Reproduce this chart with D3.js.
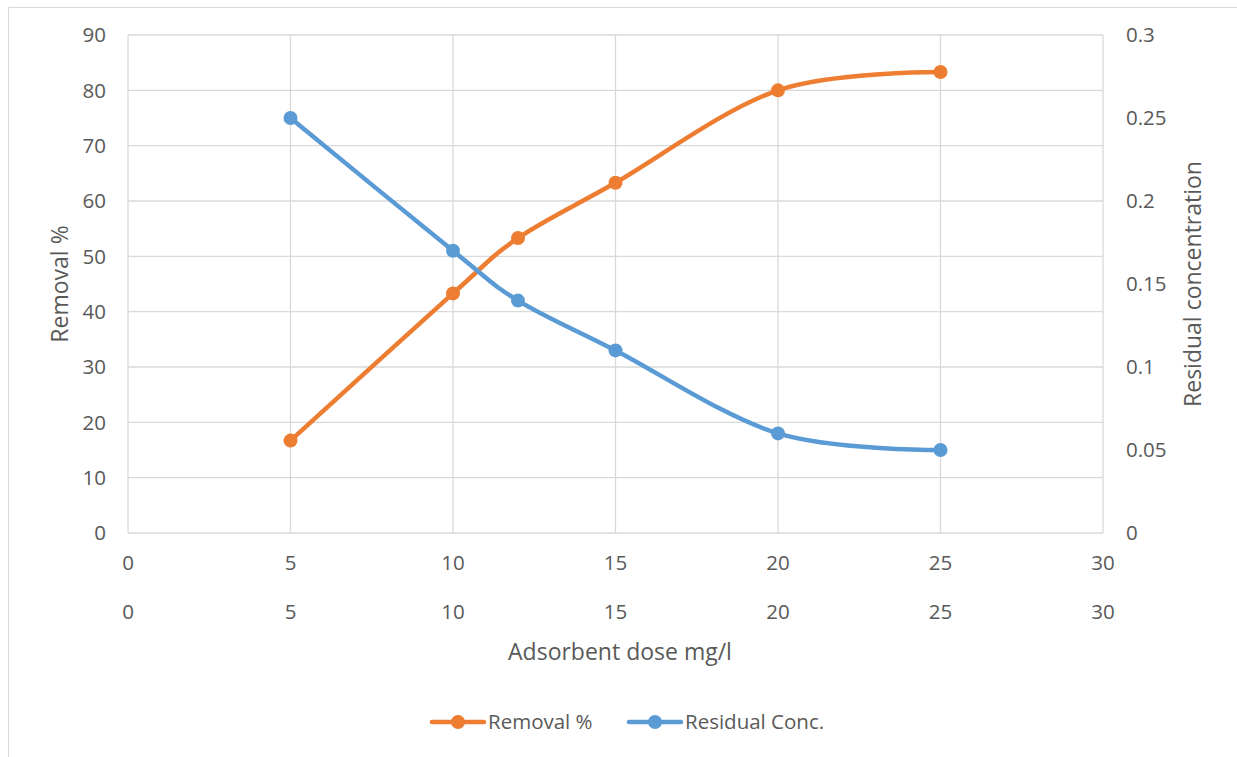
<!DOCTYPE html>
<html>
<head>
<meta charset="utf-8">
<script src="https://cdn.jsdelivr.net/npm/d3@7"></script>
<style>
  html, body { margin: 0; padding: 0; background: #fff; }
  svg text { font-family: "Open Sans", sans-serif; fill: #595959; }
</style>
</head>
<body>
<svg id="chart" width="1237" height="757"></svg>
<script>
// Adsorbent dose (mg/l)
const doses = [5, 10, 12, 15, 20, 25];
// Removal efficiency (%)
const removal = [16.7, 43.3, 53.3, 63.3, 80, 83.3];
// Residual concentration
const residual = [0.25, 0.17, 0.14, 0.11, 0.06, 0.05];

const xTicks = [0, 5, 10, 15, 20, 25, 30];
const yLeftTicks = [0, 10, 20, 30, 40, 50, 60, 70, 80, 90];
const yRightTicks = [0, 0.05, 0.1, 0.15, 0.2, 0.25, 0.3];

const seriesNames = ["Removal %", "Residual Conc."];
const colors = ["#ED7D31", "#5B9BD5"];

const svg = d3.select("#chart");
const plot = { left: 128, right: 1103, top: 35, bottom: 533 };

const x = d3.scaleLinear().domain([0, 30]).range([plot.left, plot.right]);
const yL = d3.scaleLinear().domain([0, 90]).range([plot.bottom, plot.top]);
const yR = d3.scaleLinear().domain([0, 0.3]).range([plot.bottom, plot.top]);

// outer chart frame
svg.append("path")
  .attr("d", "M8.5,757 V7.5 H1237")
  .attr("fill", "none").attr("stroke", "#d9d9d9").attr("stroke-width", 1);

// gridlines
const grid = svg.append("g").attr("stroke", "#d9d9d9").attr("stroke-width", 1.3);
grid.selectAll(".h").data(yLeftTicks).join("line")
  .attr("x1", plot.left).attr("x2", plot.right)
  .attr("y1", d => yL(d)).attr("y2", d => yL(d));
grid.selectAll(".v").data(xTicks).join("line")
  .attr("y1", plot.top).attr("y2", plot.bottom)
  .attr("x1", d => x(d)).attr("x2", d => x(d));

const tickSize = 20.5;
const titleSize = 23;
const fmt = d => String(+d.toFixed(2));

// left axis labels
svg.append("g").selectAll("text").data(yLeftTicks).join("text")
  .attr("x", 106).attr("y", d => yL(d)).attr("dy", "0.35em")
  .attr("text-anchor", "end").attr("font-size", tickSize).text(d => d);

// right axis labels
svg.append("g").selectAll("text").data(yRightTicks).join("text")
  .attr("x", 1126).attr("y", d => yR(d)).attr("dy", "0.35em")
  .attr("text-anchor", "start").attr("font-size", tickSize).text(fmt);

// two x-axis label rows
[563, 612].forEach(yy => {
  svg.append("g").selectAll("text").data(xTicks).join("text")
    .attr("x", d => x(d)).attr("y", yy).attr("dy", "0.35em")
    .attr("text-anchor", "middle").attr("font-size", tickSize).text(d => d);
});

// axis titles
svg.append("text").attr("x", 620).attr("y", 652).attr("dy", "0.35em")
  .attr("text-anchor", "middle").attr("font-size", titleSize).text("Adsorbent dose mg/l");
svg.append("text").attr("transform", "translate(60,284) rotate(-90)").attr("dy", "0.35em")
  .attr("text-anchor", "middle").attr("font-size", titleSize).text("Removal %");
svg.append("text").attr("transform", "translate(1193,284) rotate(-90)").attr("dy", "0.35em")
  .attr("text-anchor", "middle").attr("font-size", titleSize).text("Residual concentration");

// series
const series = [
  { values: removal, y: yL, color: colors[0] },
  { values: residual, y: yR, color: colors[1] }
];
series.forEach(s => {
  const pts = doses.map((d, i) => [x(d), s.y(s.values[i])]);
  svg.append("path")
    .attr("d", d3.line().curve(d3.curveCatmullRom.alpha(0))(pts))
    .attr("fill", "none").attr("stroke", s.color)
    .attr("stroke-width", 4.5).attr("stroke-linecap", "round").attr("stroke-linejoin", "round");
  svg.append("g").selectAll("circle").data(pts).join("circle")
    .attr("cx", p => p[0]).attr("cy", p => p[1]).attr("r", 7)
    .attr("fill", s.color);
});

// legend
const legendItems = [{ x: 430 }, { x: 627 }];
legendItems.forEach((it, i) => {
  const g = svg.append("g").attr("transform", `translate(${it.x},722)`);
  g.append("line").attr("x1", 2).attr("x2", 54).attr("y1", 0).attr("y2", 0)
    .attr("stroke", colors[i]).attr("stroke-width", 4.5).attr("stroke-linecap", "round");
  g.append("circle").attr("cx", 28).attr("cy", 0).attr("r", 7).attr("fill", colors[i]);
  g.append("text").attr("x", 58).attr("y", 0).attr("dy", "0.35em")
    .attr("font-size", tickSize).text(seriesNames[i]);
});
</script>
</body>
</html>
